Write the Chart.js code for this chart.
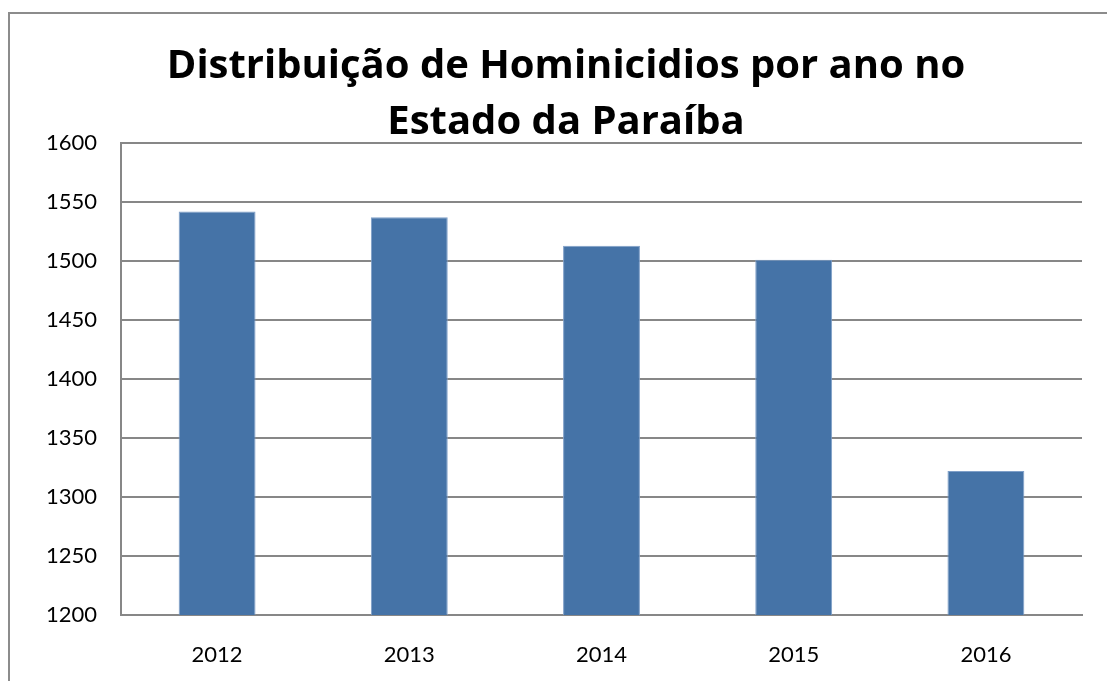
<!DOCTYPE html>
<html>
<head>
<meta charset="utf-8">
<script src="https://cdn.jsdelivr.net/npm/chart.js@4/dist/chart.umd.min.js"></script>
<style>
  html, body { margin: 0; padding: 0; background: #fff; }
  #wrap { width: 1107px; height: 681px; position: relative; }
</style>
</head>
<body>
<div id="wrap"><canvas id="c" width="1107" height="681"></canvas></div>
<script>
const titleLines = ['Distribuição de Hominicidios por ano no', 'Estado da Paraíba'];
const categories = ['2012', '2013', '2014', '2015', '2016'];
const homicides = [1542, 1537, 1513, 1501, 1322];
const yMin = 1200;
const yMax = 1600;
const yStep = 50;

const gridColor = '#878787';
const frame = {
  id: 'frame',
  beforeDraw(chart) {
    const ctx = chart.ctx;
    ctx.save();
    ctx.fillStyle = '#fff';
    ctx.fillRect(0, 0, chart.width, chart.height);
    ctx.strokeStyle = '#8c8c8c';
    ctx.lineWidth = 2;
    ctx.beginPath();
    ctx.moveTo(9, chart.height + 5);
    ctx.lineTo(9, 13);
    ctx.lineTo(chart.width + 5, 13);
    ctx.stroke();
    ctx.restore();
  },
  afterDraw(chart) {
    const ctx = chart.ctx;
    ctx.save();
    ctx.fillStyle = '#000';
    ctx.textAlign = 'center';
    ctx.textBaseline = 'alphabetic';
    ctx.font = 'bold 40px "Open Sans"';
    const baselines = [78, 134];
    titleLines.forEach((t, i) => ctx.fillText(t, 566, baselines[i]));
    ctx.restore();
  }
};

new Chart(document.getElementById('c'), {
  type: 'bar',
  data: {
    labels: categories,
    datasets: [{
      data: homicides,
      backgroundColor: '#4573a7',
      borderColor: '#7f9fc8',
      borderWidth: 1,
      categoryPercentage: 1,
      barPercentage: 0.4
    }]
  },
  options: {
    responsive: false,
    animation: false,
    layout: { padding: { left: 0, right: 25, top: 143, bottom: 0 } },
    plugins: {
      legend: { display: false },
      tooltip: { enabled: false },
      title: { display: false }
    },
    scales: {
      x: {
        grid: { display: false, drawTicks: false },
        border: { display: true, color: gridColor, width: 2 },
        ticks: { color: '#000', font: { family: 'Lato', size: 22 }, padding: 27 },
        afterFit(s) { s.height = 66; }
      },
      y: {
        min: yMin,
        max: yMax,
        grid: { color: gridColor, lineWidth: 2, drawTicks: false },
        border: { display: true, color: gridColor, width: 2 },
        ticks: { stepSize: yStep, color: '#000', font: { family: 'Lato', size: 22 }, padding: 24,
                 callback: v => String(v) },
        afterFit(s) { s.width = 121; }
      }
    }
  },
  plugins: [frame]
});
</script>
</body>
</html>
